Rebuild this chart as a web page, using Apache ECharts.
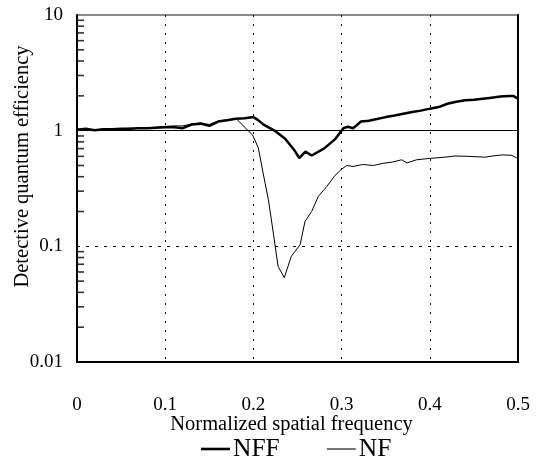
<!DOCTYPE html>
<html>
<head>
<meta charset="utf-8">
<script src="https://cdn.jsdelivr.net/npm/echarts@6/dist/echarts.min.js"></script>
<style>
html,body{margin:0;padding:0;background:#fff;}
#chart{width:536px;height:460px;}
</style>
</head>
<body>
<div id="chart"></div>
<script>
// Data
var nffFreq = [0.00,0.01,0.02,0.03,0.04,0.05,0.06,0.07,0.08,0.09,0.10,0.11,0.12,0.13,0.14,0.15,0.16,0.17,0.18,0.19,0.20,0.205,0.212,0.225,0.236,0.246,0.252,0.259,0.266,0.28,0.293,0.302,0.307,0.313,0.322,0.331,0.34,0.35,0.36,0.37,0.38,0.39,0.40,0.41,0.42,0.43,0.44,0.45,0.46,0.47,0.48,0.49,0.495,0.50];
var nffValues = [1.02,1.04,1.01,1.03,1.03,1.04,1.04,1.05,1.05,1.06,1.07,1.07,1.05,1.13,1.15,1.10,1.20,1.23,1.27,1.28,1.31,1.24,1.12,0.99,0.85,0.685,0.58,0.66,0.61,0.70,0.85,1.05,1.08,1.05,1.20,1.22,1.26,1.31,1.35,1.40,1.45,1.49,1.55,1.60,1.71,1.78,1.83,1.85,1.89,1.93,1.97,1.99,1.99,1.89];
var nfFreq = [0.00,0.01,0.02,0.03,0.04,0.05,0.06,0.07,0.08,0.09,0.10,0.11,0.12,0.13,0.14,0.15,0.16,0.17,0.181,0.194,0.199,0.2056,0.211,0.217,0.2226,0.228,0.235,0.243,0.253,0.2585,0.266,0.2736,0.283,0.2925,0.300,0.3058,0.313,0.324,0.336,0.346,0.358,0.368,0.374,0.385,0.400,0.417,0.4286,0.443,0.4626,0.474,0.482,0.493,0.50];
var nfValues = [1.03,1.03,1.02,1.03,1.04,1.04,1.05,1.05,1.06,1.07,1.09,1.10,1.10,1.14,1.17,1.13,1.21,1.24,1.26,1.00,0.92,0.71,0.43,0.253,0.13,0.067,0.0536,0.082,0.1035,0.164,0.20,0.27,0.328,0.41,0.465,0.50,0.49,0.51,0.50,0.52,0.536,0.56,0.526,0.56,0.576,0.59,0.604,0.60,0.59,0.608,0.617,0.612,0.573];
var seriesNames = ['NFF','NF'];
var xTickLabels = ['0','0.1','0.2','0.3','0.4','0.5'];
var yMinorTicks = [];
[0.01,0.1,1].forEach(function(d){ for (var k=2;k<=9;k++) yMinorTicks.push(+(d*k).toPrecision(3)); });

function zip(a,b){ return a.map(function(v,i){ return [v,b[i]]; }); }

var font = '"Liberation Serif", "Times New Roman", serif';
var chart = echarts.init(document.getElementById('chart'), null, {renderer:'canvas'});
chart.setOption({
  animation:false,
  backgroundColor:'#fff',
  textStyle:{fontFamily:font,color:'#000'},
  grid:{left:77,right:18,top:15,bottom:98,show:true,borderColor:'#666',borderWidth:1.5,
        containLabel:false,outerBoundsMode:'none'},
  legend:{
    bottom:-7,left:196,
    data:[
      {name:seriesNames[0],icon:'path://M0,0 L29,0 L29,2.6 L0,2.6 Z'},
      {name:seriesNames[1],icon:'path://M0,0 L29,0 L29,1.1 L0,1.1 Z'}
    ],
    itemWidth:29,itemHeight:16,itemGap:47,
    textStyle:{fontFamily:font,fontSize:25.5,color:'#000',padding:[0,0,0,-2]}
  },
  xAxis:[{
    type:'value',min:0,max:0.5,interval:0.1,
    axisLine:{show:true,lineStyle:{color:'#000',width:2}},
    axisTick:{show:false},
    axisLabel:{margin:34,fontFamily:font,fontSize:19,color:'#000',
      formatter:function(v){ return xTickLabels[Math.round(v*10)]; }},
    splitLine:{show:true,lineStyle:{color:'#000',width:1,type:[2,7]}},
    name:'Normalized spatial frequency',nameLocation:'middle',nameGap:52,nameMoveOverlap:false,
    nameTextStyle:{fontFamily:font,fontSize:20.5,color:'#000',padding:[0,12,0,0]}
  }],
  yAxis:[{
    type:'log',logBase:10,min:0.01,max:10,
    axisLine:{show:true,lineStyle:{color:'#000',width:2}},
    axisTick:{show:false},
    minorTick:{show:false},
    axisLabel:{margin:14,fontFamily:font,fontSize:19,color:'#000'},
    splitLine:{show:false},
    name:'Detective quantum efficiency',nameLocation:'middle',nameGap:44,nameMoveOverlap:false,
    nameTextStyle:{fontFamily:font,fontSize:20.5,color:'#000',padding:[0,0,0,44]}
  },{
    type:'log',logBase:10,min:0.01,max:10,position:'right',
    axisLine:{show:true,lineStyle:{color:'#000',width:2}},
    axisLabel:{show:false},axisTick:{show:false},splitLine:{show:false}
  }],
  series:[{
    name:seriesNames[0],type:'line',symbol:'none',
    data:zip(nffFreq,nffValues),
    lineStyle:{color:'#000',width:2.5},itemStyle:{color:'#000'},
    z:5,
    markLine:{silent:true,symbol:'none',label:{show:false},
      data:[
        {yAxis:1,lineStyle:{color:'#000',width:1,type:'solid'}},
        {yAxis:0.1,lineStyle:{color:'#000',width:1,type:[3,6]}}
      ]}
  },{
    name:seriesNames[1],type:'line',symbol:'none',
    data:zip(nfFreq,nfValues),
    lineStyle:{color:'#000',width:1},itemStyle:{color:'#000'},
    z:4
  },{
    name:'minorTicks',type:'scatter',silent:true,z:6,clip:false,
    symbol:'rect',symbolSize:[7,1.6],symbolOffset:[3.5,0],
    itemStyle:{color:'#000'},
    data:yMinorTicks.map(function(v){ return [0,v]; })
  }]
});
</script>
</body>
</html>
